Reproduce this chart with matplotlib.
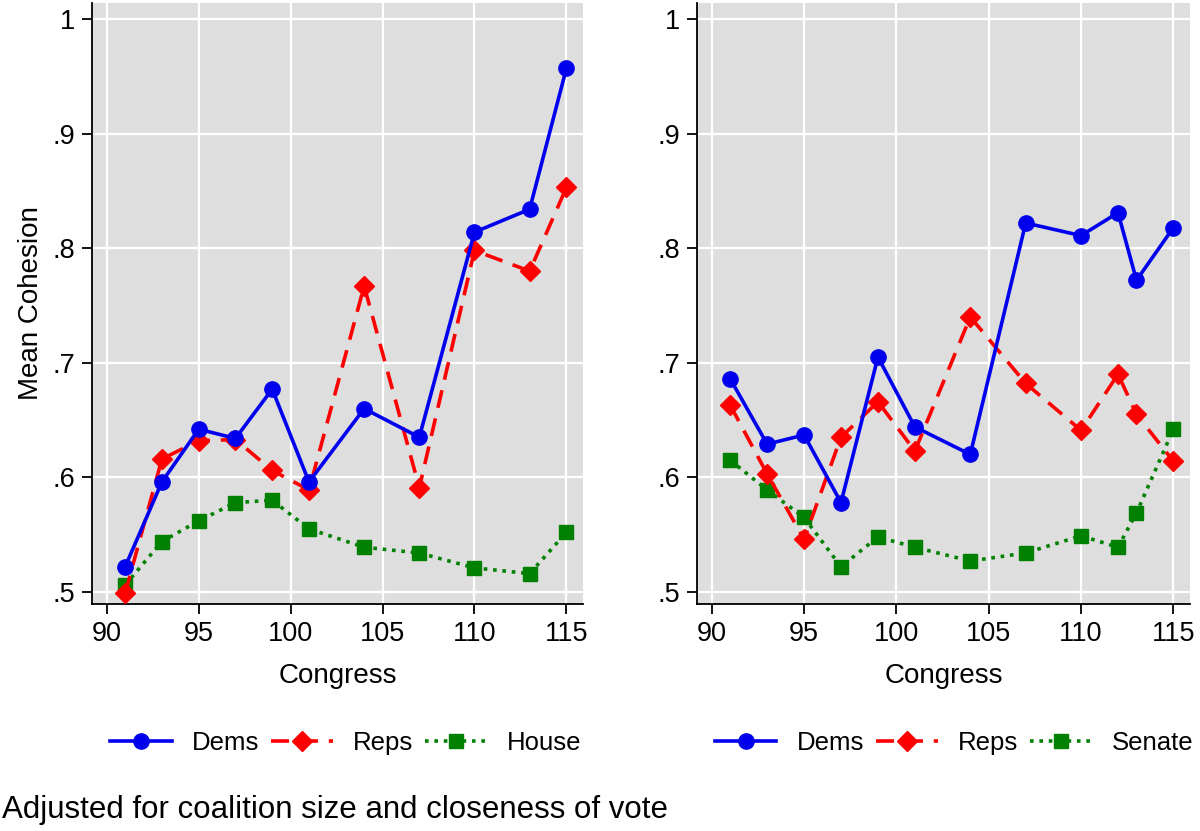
import matplotlib
matplotlib.use("Agg")
import matplotlib.pyplot as plt

plt.rcParams['font.family'] = ['Liberation Sans', 'DejaVu Sans']

# House panel
house_cong = [91, 93, 95, 97, 99, 101, 104, 107, 110, 113, 115]
house_dems = [.522, .596, .642, .634, .677, .596, .660, .635, .814, .834, .957]
house_reps = [.499, .616, .632, .633, .606, .589, .767, .591, .798, .780, .853]
house_all = [.506, .544, .562, .578, .580, .555, .539, .534, .521, .516, .552]

# Senate panel
sen_cong = [91, 93, 95, 97, 99, 101, 104, 107, 110, 112, 113, 115]
sen_dems = [.686, .629, .637, .578, .705, .644, .620, .822, .811, .831, .772, .818]
sen_reps = [.663, .603, .546, .635, .666, .623, .740, .682, .641, .690, .655, .614]
sen_all = [.615, .589, .565, .522, .548, .539, .527, .534, .549, .539, .569, .642]

xticks = [90, 95, 100, 105, 110, 115]
yticks = [.5, .6, .7, .8, .9, 1]
ytlabels = ['.5', '.6', '.7', '.8', '.9', '1']

BLUE = '#0000ee'
RED = '#ff0000'
GREEN = '#008000'
BG = '#dedede'

fig = plt.figure(figsize=(12, 8.31), dpi=100)
ax1 = fig.add_axes([0.0767, 0.2732, 0.4091, 0.7232])
ax2 = fig.add_axes([0.5808, 0.2732, 0.4109, 0.7232])

def panel(ax, x, d, r, t, tname, ylabel):
    ax.set_facecolor(BG)
    ax.plot(x, d, color=BLUE, lw=2.6, marker='o', ms=11, label='Dems', zorder=5)
    ax.plot(x, r, color=RED, lw=2.6, ls=(0, (5, 3)), marker='D', ms=10, label='Reps', zorder=4)
    ax.plot(x, t, color=GREEN, lw=2.6, ls=(0, (1, 1.6)), marker='s', ms=9.5, label=tname, zorder=3)
    ax.set_xlim(89.2, 115.9)
    ax.set_ylim(0.4895, 1.014)
    ax.set_xticks(xticks)
    ax.set_yticks(yticks)
    ax.set_yticklabels(ytlabels)
    ax.grid(True, color='white', lw=1.6)
    ax.set_axisbelow(True)
    for s in ['top', 'right']:
        ax.spines[s].set_visible(False)
    for s in ['left', 'bottom']:
        ax.spines[s].set_linewidth(1.3)
    ax.tick_params(direction='out', length=7, width=1.3, labelsize=19.5, pad=5)
    ax.set_xlabel('Congress', fontsize=20, labelpad=12)
    if ylabel:
        ax.set_ylabel(ylabel, fontsize=20, labelpad=6)

panel(ax1, house_cong, house_dems, house_reps, house_all, 'House', 'Mean Cohesion')
panel(ax2, sen_cong, sen_dems, sen_reps, sen_all, 'Senate', None)

for ax, cx in [(ax1, 0.2883), (ax2, 0.795)]:
    h, l = ax.get_legend_handles_labels()
    fig.legend(h, l, loc='center', bbox_to_anchor=(cx, 0.106), ncol=3, frameon=False,
               fontsize=18.5, handlelength=2.4, columnspacing=0.47, handletextpad=0.78)

fig.text(0.002, 0.025, 'Adjusted for coalition size and closeness of vote', fontsize=22.5,
         ha='left', va='center')

fig.savefig('out.png', dpi=100)
